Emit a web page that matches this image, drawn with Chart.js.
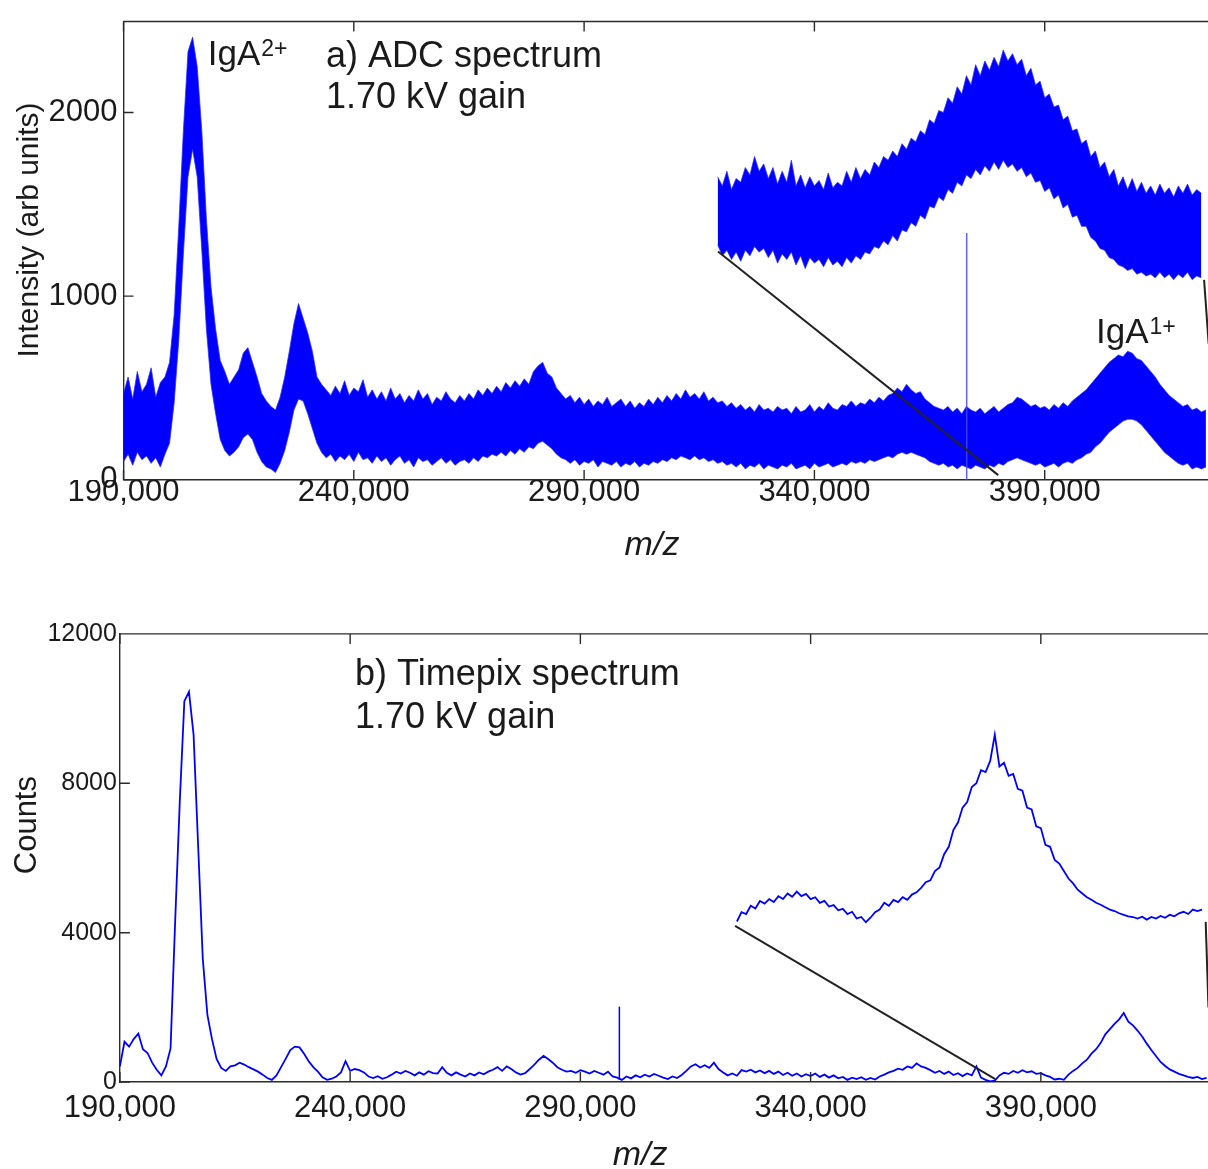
<!DOCTYPE html>
<html>
<head>
<meta charset="utf-8">
<title>IgA spectra - ADC vs Timepix</title>
<script src="https://cdn.jsdelivr.net/npm/chart.js@4.4.1/dist/chart.umd.min.js"></script>
<style>
  html, body { margin: 0; padding: 0; background: #fff; overflow: hidden; }
  #wrap { position: relative; width: 1208px; height: 1169px; }
  canvas { position: absolute; left: 0; }
  #adc-chart { top: 0; }
  #tpx-chart { top: 600px; }
</style>
</head>
<body>
<div id="wrap">
  <canvas id="adc-chart" width="1208" height="600"></canvas>
  <canvas id="tpx-chart" width="1208" height="569"></canvas>
</div>
<script>
const MZ_STEP = 1000;

// a) ADC spectrum: noisy band, upper / lower envelope, m/z 190,000 .. 425,000
const adcStart = 190000;
const adcUpper = [
  470, 560, 440, 590, 480, 520, 610, 450, 530, 560,
  640, 900, 1380, 1900, 2330, 2410, 2250, 1900, 1420, 1050,
  820, 650, 590, 520, 560, 600, 690, 720, 640, 560,
  470, 430, 400, 380, 450, 560, 700, 850, 960, 880,
  800, 700, 560, 520, 490, 460, 510, 470, 540, 460,
  500, 480, 545, 450, 490, 440, 480, 430, 500, 440,
  470, 420, 460, 430, 490, 440, 470, 410, 450, 430,
  480, 440, 420, 460, 430, 470, 440, 490, 460, 500,
  470, 510, 480, 530, 500, 540, 510, 550, 520, 590,
  620, 640, 580, 560, 500, 470, 440, 460, 420, 450,
  410, 440, 400, 430, 410, 450, 400, 420, 440, 400,
  430, 390, 420, 400, 440, 410, 450, 420, 460, 430,
  470, 440, 490, 450, 470, 440, 480, 430, 450, 420,
  430, 400, 420, 390, 410, 380, 400, 370, 410, 380,
  390, 370, 400, 380, 390, 360, 400, 370, 380, 410,
  370, 400, 380, 420, 390, 380, 410, 400, 430, 400,
  420, 410, 440, 420, 450, 430, 460, 470, 500, 480,
  520, 490, 470, 480, 440, 420, 400, 390, 380, 400,
  370, 390, 360, 400, 380, 370, 390, 360, 380, 400,
  370, 390, 410, 420, 450, 440, 420, 400, 410, 390,
  400, 380, 410, 390, 420, 400, 430, 450, 470, 490,
  520, 550, 580, 610, 640, 660, 680, 670, 700, 690,
  660, 650, 620, 590, 560, 520, 490, 460, 440, 420,
  400, 410, 380, 390, 370, 380
];
const adcLower = [
  100, 140, 80, 150, 110, 130, 90, 120, 70, 140,
  200, 420, 760, 1230, 1650, 1800, 1650, 1250, 820, 520,
  360, 220, 160, 130, 150, 180, 230, 250, 220, 150,
  100, 70, 60, 40, 90, 160, 260, 380, 440, 430,
  360, 280, 200, 150, 120, 140, 100, 130, 110, 140,
  100, 150, 110, 120, 90, 130, 100, 120, 80, 110,
  130, 90, 110, 70, 120, 100, 110, 80, 100, 120,
  90, 110, 80, 100, 110, 90, 120, 100, 130, 120,
  140, 130, 150, 130, 160, 140, 170, 150, 180, 170,
  200, 210, 190, 170, 140, 120, 110, 90, 110, 80,
  100, 90, 110, 70, 100, 90, 80, 100, 70, 90,
  80, 100, 70, 90, 80, 100, 90, 110, 100, 120,
  110, 130, 120, 110, 130, 110, 120, 100, 110, 90,
  100, 80, 90, 70, 90, 60, 80, 70, 90, 60,
  80, 70, 60, 80, 70, 90, 60, 70, 80, 60,
  90, 70, 80, 90, 70, 80, 90, 80, 100, 90,
  100, 90, 110, 100, 110, 120, 130, 120, 140, 150,
  140, 150, 140, 130, 120, 100, 90, 80, 90, 70,
  80, 60, 80, 70, 60, 80, 70, 60, 80, 70,
  90, 80, 100, 110, 120, 110, 100, 90, 80, 90,
  70, 80, 90, 70, 90, 100, 90, 110, 120, 140,
  150, 180, 200, 230, 260, 280, 300, 320, 330, 330,
  320, 300, 270, 240, 210, 180, 150, 130, 110, 90,
  80, 90, 60, 70, 60, 70
];

// a) inset (magnified trace), given in the main axis units, m/z 319,000 .. 424,000
const adcInsetStart = 319000;
const adcInsetUpper = [
  1650, 1600, 1680, 1580, 1640, 1620, 1700, 1660, 1760, 1680,
  1720, 1640, 1700, 1610, 1680, 1620, 1740, 1600, 1660, 1590,
  1650, 1600, 1630, 1580, 1670, 1590, 1620, 1600, 1680, 1620,
  1700, 1640, 1690, 1660, 1730, 1700, 1760, 1740, 1790, 1760,
  1830, 1800, 1860, 1840, 1900, 1880, 1960, 1940, 2010, 2000,
  2080, 2050, 2140, 2100, 2200, 2150, 2260, 2200, 2280, 2230,
  2300, 2250, 2340, 2280, 2320, 2260, 2290, 2200, 2240, 2150,
  2170, 2080, 2100, 2030, 2040, 1960, 1980, 1900, 1910, 1830,
  1850, 1760, 1790, 1700, 1730, 1650, 1690, 1600, 1650, 1580,
  1640, 1570, 1620, 1560, 1600, 1550, 1610, 1560, 1590, 1540,
  1600, 1560, 1610, 1550, 1580, 1560
];
const adcInsetLower = [
  1280, 1220, 1250, 1200, 1240, 1190, 1250, 1220, 1270, 1240,
  1260, 1210, 1250, 1180, 1230, 1200, 1240, 1170, 1220, 1150,
  1210, 1180, 1200, 1160, 1210, 1170, 1190, 1160, 1210, 1180,
  1220, 1200, 1240, 1230, 1270, 1260, 1300, 1280, 1330, 1300,
  1360, 1350, 1400, 1380, 1440, 1420, 1490, 1480, 1540, 1520,
  1580, 1560, 1620, 1600, 1660, 1640, 1690, 1660, 1710, 1680,
  1730, 1690, 1740, 1700, 1720, 1680, 1700, 1650, 1670, 1620,
  1630, 1570, 1590, 1530, 1550, 1480, 1500, 1430, 1440, 1380,
  1380, 1320, 1300, 1260, 1250, 1210, 1200, 1170, 1160, 1140,
  1150, 1120, 1130, 1110, 1120, 1100, 1130, 1100, 1120, 1090,
  1120, 1100, 1130, 1090, 1110, 1100
];
const adcSpike = [{ x: 373060, y: 0 }, { x: 373060, y: 1344 }];
const adcConnectors = [
  [{ x: 319070, y: 1243 }, { x: 379900, y: 26 }],
  [{ x: 424600, y: 1089 }, { x: 425600, y: 740 }]
];

// b) Timepix spectrum, m/z 190,000 .. 426,000
const tpxStart = 190000;
const tpxCounts = [
  420, 1080, 950, 1150, 1300, 880, 780, 520, 330, 180,
  420, 900, 4300, 7500, 10200, 10450, 9300, 6300, 3300, 1800,
  1150, 620, 380, 300, 420, 450, 520, 470, 400, 340,
  280, 200, 110, 60, 180, 400, 620, 860, 950, 930,
  760, 560, 400, 280, 130, 60, 90, 150, 260, 560,
  300, 350, 320, 260, 150, 110, 160, 90, 130, 200,
  280, 230, 300, 250, 180, 260, 200, 290, 240, 230,
  400, 250, 180, 260, 200, 150, 230, 180, 260, 210,
  280, 330, 400, 300, 420, 350, 260, 200, 240, 350,
  470, 600, 700, 620, 520, 400, 330, 280, 300, 250,
  320, 280, 230, 300, 250, 200, 280, 150, 120, 60,
  150, 100, 180, 130, 200, 150, 220, 170, 120, 80,
  150, 110, 190, 300, 420, 480, 390, 450, 380, 520,
  350, 260, 180, 230, 170, 320, 280, 330, 260, 310,
  240, 300, 220, 280, 190, 250, 170, 230, 150, 210,
  160, 230, 140, 200, 120, 180, 100, 140, 60, 120,
  80, 130, 60, 110, 70, 150, 200, 260, 300, 360,
  330, 420, 380, 500, 420, 380, 320, 250, 300, 220,
  280, 190, 240, 160, 230, 180, 420, 120, 60, 20,
  40, 180, 250, 220, 300, 250, 320, 260, 290, 220,
  240, 180, 140, 70, 90, 60, 200, 300, 380, 500,
  600, 760, 880, 1050, 1280, 1420, 1560, 1680, 1850, 1620,
  1520, 1380, 1220, 1030, 860, 700, 540, 430, 340, 280,
  220, 180, 140, 110, 140, 80, 110
];

// b) inset (magnified trace), given in the main axis units, m/z 324,000 .. 425,000
const tpxInsetStart = 324000;
const tpxInset = [
  4300, 4550, 4500, 4720, 4650, 4850, 4780, 4900, 4820, 4980,
  4900, 5050, 4960, 5100, 4980, 5040, 4900, 4950, 4800, 4850,
  4700, 4740, 4600, 4640, 4500, 4560, 4380, 4420, 4280, 4400,
  4550, 4620, 4800, 4720, 4880, 4820, 4950, 4880, 5020, 5080,
  5200, 5350, 5400, 5650, 5750, 6100, 6300, 6750, 6950, 7350,
  7500, 7900, 8000, 8350, 8300, 8600, 9300, 8450, 8550, 8200,
  8250, 7850, 7800, 7350, 7300, 6850, 6800, 6350, 6300, 5950,
  5850, 5650, 5450, 5320, 5150, 5050, 4950, 4880, 4800, 4750,
  4680, 4620, 4580, 4520, 4480, 4440, 4420, 4380, 4430, 4350,
  4420, 4380, 4450, 4400, 4480, 4440, 4520, 4560, 4500, 4620,
  4580, 4620
];
const tpxSpike = [{ x: 298470, y: 60 }, { x: 298470, y: 2020 }];
const tpxConnectors = [
  [{ x: 323600, y: 4180 }, { x: 380100, y: 80 }],
  [{ x: 425800, y: 4290 }, { x: 426400, y: 2000 }]
];

// axis ticks
const mzTicks = [190000, 240000, 290000, 340000, 390000];
const adcYTicks = [0, 1000, 2000];
const tpxYTicks = [0, 4000, 8000, 12000];

// ===== STYLE =====
const AXIS_COLOR = '#2b2b2b';
const TEXT_COLOR = '#1a1a1a';
const BLUE = '#0000ff';
const BLUE_EDGE = 'rgba(40, 40, 255, 0.75)';
const FONT = "'Liberation Sans', Arial, Helvetica, sans-serif";

function seriesPoints(start, values) {
  return values.map((v, i) => ({ x: start + i * MZ_STEP, y: v }));
}

function thinLine(points, color, width) {
  return {
    data: points, borderColor: color, borderWidth: width,
    pointRadius: 0, fill: false, tension: 0
  };
}

function band(upper, lower) {
  // upper edge, then lower edge filled up to the previous dataset
  return [
    { data: upper, borderColor: BLUE_EDGE, borderWidth: 1, pointRadius: 0,
      fill: false, borderJoinStyle: 'round' },
    { data: lower, borderColor: BLUE_EDGE, borderWidth: 1, pointRadius: 0,
      fill: '-1', backgroundColor: BLUE, borderJoinStyle: 'round' }
  ];
}

/**
 * Frame: top border, inward tick marks, annotations and axis titles
 */
const framePlugin = {
  id: 'frame',
  afterDraw(chart, args, opts) {
    const { ctx, chartArea: a } = chart;
    const xs = chart.scales.x, ys = chart.scales.y;
    ctx.save();
    ctx.strokeStyle = AXIS_COLOR;
    ctx.lineWidth = 1.4;
    ctx.beginPath();
    ctx.moveTo(a.left, a.top);
    ctx.lineTo(a.right, a.top);
    opts.xTicks.forEach(v => {
      const px = xs.getPixelForValue(v);
      ctx.moveTo(px, a.bottom); ctx.lineTo(px, a.bottom - opts.tickLen);
      ctx.moveTo(px, a.top); ctx.lineTo(px, a.top + opts.tickLen);
    });
    opts.yTicks.forEach(v => {
      const py = ys.getPixelForValue(v);
      ctx.moveTo(a.left, py); ctx.lineTo(a.left + opts.tickLen, py);
    });
    ctx.stroke();

    ctx.fillStyle = TEXT_COLOR;
    ctx.textAlign = 'left';
    ctx.textBaseline = 'alphabetic';
    opts.notes.forEach(n => {
      const x = xs.getPixelForValue(n.mz);
      const y = ys.getPixelForValue(n.val);
      ctx.font = `${n.size}px ${FONT}`;
      ctx.fillText(n.text, x, y);
      if (n.sup) {
        const w = ctx.measureText(n.text).width;
        ctx.font = `${n.supSize}px ${FONT}`;
        ctx.fillText(n.sup, x + w + 1, y - n.supRise);
      }
    });

    // x title (italic m/z)
    const xt = opts.xTitle;
    ctx.textAlign = 'center';
    ctx.textBaseline = 'middle';
    ctx.font = `italic ${xt.size}px ${FONT}`;
    ctx.fillText(xt.text, xs.getPixelForValue(xt.mz), a.bottom + xt.gap);

    // y title, rotated
    const yt = opts.yTitle;
    ctx.translate(yt.x, ys.getPixelForValue(yt.val));
    ctx.rotate(-Math.PI / 2);
    ctx.font = `${yt.size}px ${FONT}`;
    ctx.fillText(yt.text, 0, 0);
    ctx.restore();
  }
};

function makeOptions(cfg) {
  return {
    responsive: false,
    animation: false,
    devicePixelRatio: 1,
    layout: { padding: { top: cfg.padTop, right: 0, bottom: 0, left: 0 } },
    elements: { point: { radius: 0 }, line: { tension: 0 } },
    plugins: {
      legend: { display: false },
      tooltip: { enabled: false },
      frame: cfg.frame
    },
    scales: {
      x: {
        type: 'linear',
        min: 190000,
        max: cfg.xMax,
        afterBuildTicks: s => { s.ticks = mzTicks.map(v => ({ value: v })); },
        afterFit: s => { s.height = cfg.xAxisHeight; },
        grid: { display: false, drawTicks: false },
        border: { display: true, color: AXIS_COLOR, width: 1.4 },
        ticks: {
          autoSkip: false,
          maxRotation: 0,
          color: TEXT_COLOR,
          padding: cfg.xPad,
          font: { family: FONT, size: cfg.xFont, lineHeight: 1 },
          callback: v => Number(v).toLocaleString('en-US')
        }
      },
      y: {
        min: 0,
        max: cfg.yMax,
        afterBuildTicks: s => { s.ticks = cfg.yTicks.map(v => ({ value: v })); },
        afterFit: s => { s.width = cfg.yAxisWidth; },
        grid: { display: false, drawTicks: false },
        border: { display: true, color: AXIS_COLOR, width: 1.4 },
        ticks: {
          color: TEXT_COLOR,
          padding: cfg.yPad,
          font: { family: FONT, size: cfg.yFont, lineHeight: 1 },
          callback: v => String(v)
        }
      }
    }
  };
}

// ===== a) ADC spectrum =====
new Chart(document.getElementById('adc-chart'), {
  type: 'line',
  data: {
    datasets: [
      thinLine(adcConnectors[0], '#222', 2),
      thinLine(adcConnectors[1], '#222', 2),
      thinLine(adcSpike, 'rgba(70, 70, 255, 0.85)', 1.5),
      ...band(seriesPoints(adcInsetStart, adcInsetUpper), seriesPoints(adcInsetStart, adcInsetLower)),
      ...band(seriesPoints(adcStart, adcUpper), seriesPoints(adcStart, adcLower))
    ]
  },
  options: makeOptions({
    xMax: 425450, yMax: 2495, yTicks: adcYTicks,
    padTop: 14.7, xAxisHeight: 120.1, yAxisWidth: 123.5,
    xFont: 31, xPad: -2.9, yFont: 31, yPad: 6,
    frame: {
      tickLen: 10, xTicks: mzTicks, yTicks: adcYTicks,
      notes: [
        { text: 'IgA', sup: '2+', mz: 208300, val: 2256, size: 35, supSize: 23, supRise: 9 },
        { text: 'a) ADC spectrum', mz: 233960, val: 2250, size: 36 },
        { text: '1.70 kV gain', mz: 233960, val: 2025, size: 36 },
        { text: 'IgA', sup: '1+', mz: 401130, val: 744, size: 35, supSize: 23, supRise: 9 }
      ],
      xTitle: { text: 'm/z', mz: 304740, gap: 66, size: 34 },
      yTitle: { text: 'Intensity (arb units)', val: 1360, x: 30, size: 30 }
    }
  }),
  plugins: [framePlugin]
});

// ===== b) Timepix spectrum =====
new Chart(document.getElementById('tpx-chart'), {
  type: 'line',
  data: {
    datasets: [
      thinLine(tpxConnectors[0], '#222', 2),
      thinLine(tpxConnectors[1], '#222', 2),
      thinLine(tpxSpike, BLUE, 1.5),
      thinLine(seriesPoints(tpxInsetStart, tpxInset), BLUE, 1.8),
      thinLine(seriesPoints(tpxStart, tpxCounts), BLUE, 1.8)
    ]
  },
  options: makeOptions({
    xMax: 426300, yMax: 12000, yTicks: tpxYTicks,
    padTop: 33.9, xAxisHeight: 86.9, yAxisWidth: 119.9,
    xFont: 31, xPad: 10.7, yFont: 25, yPad: 3,
    frame: {
      tickLen: 10, xTicks: mzTicks, yTicks: tpxYTicks,
      notes: [
        { text: 'b) Timepix spectrum', mz: 241065, val: 10630, size: 36 },
        { text: '1.70 kV gain', mz: 241065, val: 9480, size: 36 }
      ],
      xTitle: { text: 'm/z', mz: 302960, gap: 73, size: 34 },
      yTitle: { text: 'Counts', val: 6880, x: 27, size: 31 }
    }
  }),
  plugins: [framePlugin]
});
</script>
</body>
</html>
